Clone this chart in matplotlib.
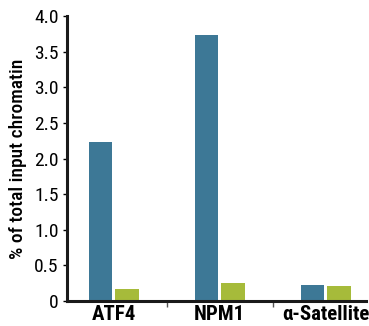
import matplotlib
matplotlib.use("Agg")
import matplotlib.pyplot as plt
from matplotlib import font_manager
import numpy as np

# data
targets = ["ATF4", "NPM1", "α-Satellite"]
antibody = [2.23, 3.74, 0.23]
control_igg = [0.17, 0.25, 0.21]
y_ticks = [0, 0.5, 1.0, 1.5, 2.0, 2.5, 3.0, 3.5, 4.0]
y_tick_labels = ["0", "0.5", "1.0", "1.5", "2.0", "2.5", "3.0", "3.5", "4.0"]

# pick a narrow sans if one is installed
names = {f.name for f in font_manager.fontManager.ttflist}
narrow = None
for cand in ["Liberation Sans Narrow", "Roboto Condensed", "Open Sans Condensed",
             "Noto Sans Condensed", "DejaVu Sans Condensed"]:
    if cand in names:
        narrow = cand
        break
if narrow:
    plt.rcParams["font.family"] = [narrow, "DejaVu Sans"]
else:
    plt.rcParams["font.family"] = ["DejaVu Sans"]
    plt.rcParams["font.stretch"] = "condensed"

fig = plt.figure(figsize=(3.69, 3.26), dpi=100)
ax = fig.add_axes([0.1816, 0.0767, 0.81, 0.874])

x = np.arange(len(targets))
w = 0.22
ax.bar(x - 0.125, antibody, width=w, color="#3d7896")
ax.bar(x + 0.125, control_igg, width=w, color="#a6bb3a")

ax.set_xlim(-0.44, 2.38)
ax.set_ylim(0, 4.0)
ax.set_yticks(y_ticks)
ax.set_yticklabels(y_tick_labels, fontsize=14)
ax.set_xticks(x)
ax.set_xticklabels(targets, fontsize=15, fontweight="bold")
ax.tick_params(axis="x", length=0, pad=3)
ax.set_xticks([0.5, 1.5], minor=True)
ax.tick_params(axis="x", which="minor", length=4, width=1, color="#555555")
ax.tick_params(axis="y", length=3, width=1, pad=3)

for s in ["top", "right"]:
    ax.spines[s].set_visible(False)
for s in ["left", "bottom"]:
    ax.spines[s].set_linewidth(2.2)
    ax.spines[s].set_color("#1a1a1a")

ax.set_ylabel("% of total input chromatin", fontsize=14, fontweight="medium", labelpad=5)

fig.savefig("out.png", dpi=100)
